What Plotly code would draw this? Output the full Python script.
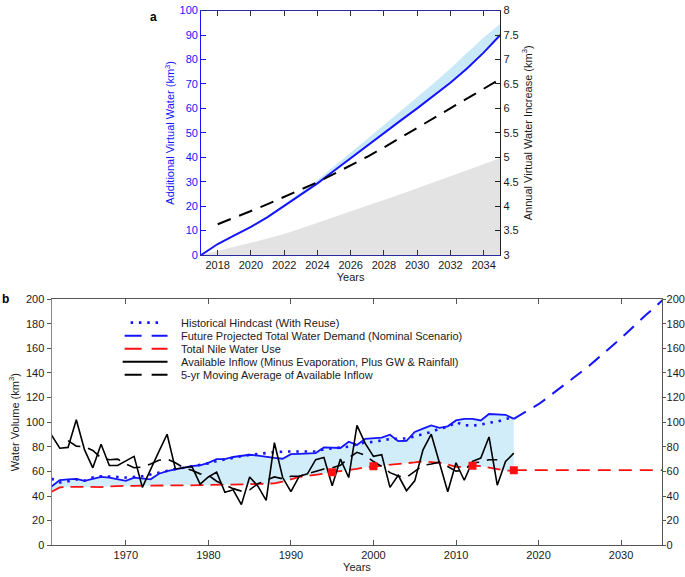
import plotly.graph_objects as go

W, H = 685, 577

# ---------------- Panel a data ----------------
years_a = [2017, 2018, 2019, 2020, 2021, 2022, 2023, 2024, 2025, 2026,
           2027, 2028, 2029, 2030, 2031, 2032, 2033, 2034, 2035]
additional_vw = [0, 4.5, 8, 11.5, 15.5, 20, 24.5, 29.3, 34.5, 39.7,
                 44.8, 50, 55, 60, 65.2, 70.5, 76.3, 82.8, 90]
additional_vw_upper = [0, 4.6, 8.2, 11.9, 16.1, 20.8, 25.6, 30.7, 36.2, 41.9,
                       47.5, 53.2, 58.8, 64.5, 70.3, 76.3, 82.5, 89.0, 94.5]
gray_area = [0, 1.6, 3.3, 5.0, 6.8, 8.6, 10.8, 13.1, 15.4, 17.7,
             20.1, 22.5, 24.9, 27.3, 29.7, 32.1, 34.6, 37.1, 39.7]
years_inc = [2018, 2019, 2020, 2021, 2022, 2023, 2024, 2025, 2026,
             2027, 2028, 2029, 2030, 2031, 2032, 2033, 2034, 2035]
annual_increase = [3.63, 3.76, 3.90, 4.04, 4.19, 4.34, 4.49, 4.66, 4.83,
                   5.01, 5.20, 5.40, 5.60, 5.80, 6.00, 6.20, 6.40, 6.60]

# ---------------- Panel b data ----------------
years_b = list(range(1961, 2018))
inflow = [89.4, 78.8, 79.5, 101.9, 77.5, 62.9, 82.0, 64.8, 64.8, 68.2,
          72.2, 47.0, 62.0, 76.0, 90.2, 62.0, 63.0, 64.0, 49.6, 55.5,
          59.4, 43.0, 45.0, 33.0, 55.5, 48.0, 36.4, 83.3, 55.0, 43.5,
          56.0, 58.0, 69.5, 71.3, 48.3, 70.0, 55.0, 97.4, 82.8, 72.2,
          73.5, 47.0, 56.8, 44.3, 52.3, 77.5, 90.2, 66.9, 43.5, 67.0,
          52.8, 68.2, 70.8, 88.0, 48.8, 68.0, 74.8]
years_ma = list(range(1963, 2016))
inflow_ma = [85.0, 80.5, 80.0, 77.0, 71.0, 69.5, 70.0, 66.0, 63.0, 63.5,
             66.0, 69.0, 70.0, 67.0, 63.0, 61.0, 58.0, 57.0, 52.0, 48.8,
             46.0, 44.0, 45.0, 50.0, 53.0, 55.5, 54.0, 56.0, 56.0, 58.0,
             60.6, 62.0, 63.0, 65.0, 71.0, 75.5, 73.0, 68.0, 64.0, 59.0,
             56.3, 55.0, 60.0, 65.0, 66.0, 67.5, 64.0, 60.2, 61.0, 67.0,
             67.5, 69.5, 69.5]
demand_hist = [47.8, 53.0, 53.6, 54.0, 52.3, 53.6, 55.5, 55.0, 53.6, 52.3,
               55.0, 54.4, 53.6, 58.1, 60.2, 61.6, 63.0, 64.3, 65.0, 66.9,
               70.0, 70.0, 71.7, 72.8, 73.5, 72.8, 71.7, 70.9, 70.3, 74.0,
               74.3, 74.3, 74.9, 79.5, 79.0, 79.0, 84.1, 81.5, 86.5, 86.8,
               87.5, 89.8, 84.6, 84.9, 92.0, 94.7, 97.4, 95.3, 96.6, 101.4,
               102.7, 102.7, 101.4, 106.6, 106.6, 106.0, 102.7]
hindcast_reuse = [54.0, 51.0, 52.0, 53.5, 52.5, 55.0, 56.0, 56.0, 55.5, 55.0,
                  55.5, 56.0, 57.5, 59.0, 60.8, 62.0, 63.0, 64.3, 65.0, 66.5,
                  68.5, 69.5, 71.0, 72.5, 73.5, 74.0, 74.9, 75.7, 76.2, 76.2,
                  76.2, 76.2, 76.2, 78.0, 78.5, 79.0, 80.0, 82.0, 83.5, 84.0,
                  85.0, 86.3, 86.5, 86.8, 88.5, 90.0, 92.0, 94.7, 96.0, 100.0,
                  97.5, 97.2, 98.0, 99.5, 100.5, 102.5, 104.0]
nile_use = [43.5, 47.0, 47.5, 47.5, 47.5, 47.0, 47.3, 47.8, 48.2, 48.3,
            48.3, 48.3, 48.3, 48.3, 48.3, 48.3, 48.5, 48.7, 48.8, 49.0,
            49.0, 49.0, 49.2, 49.4, 49.6, 49.8, 50.0, 50.3, 51.7, 53.6,
            55.5, 56.3, 57.0, 58.1, 59.4, 60.2, 61.6, 62.0, 63.3, 63.6,
            64.7, 65.2, 65.7, 66.3, 67.3, 68.2, 67.7, 67.0, 65.6, 63.6,
            63.6, 64.7, 64.2, 63.0, 61.6, 60.7, 60.7]
marker_years = [1995, 2000, 2012, 2017]
marker_use = [59.4, 64.2, 64.5, 61.0]
years_future = [2017, 2018, 2019, 2020, 2021, 2022, 2023, 2024, 2025, 2026,
                2027, 2028, 2029, 2030, 2031, 2032, 2033, 2034, 2035]
future_demand = [102.7, 106.5, 110.5, 114.6, 119.5, 124.5, 129.5, 134.5, 139.8, 145.1,
                 150.8, 156.5, 162.3, 168.2, 174.5, 181.0, 187.0, 192.9, 199.0]
years_future_use = [2017, 2035]
future_use = [61.0, 61.0]

legend_labels = [
    "Historical Hindcast (With Reuse)",
    "Future Projected Total Water Demand (Nominal Scenario)",
    "Total Nile Water Use",
    "Available Inflow (Minus Evaporation, Plus GW & Rainfall)",
    "5-yr Moving Average of Available Inflow",
]

BLUE = "#1414ff"
RED = "#ff1010"
FILL_B = "#d2edfa"
FILL_A = "#c9e9f8"
GRAY = "#e3e3e3"
FONT = "Liberation Sans, Arial, sans-serif"


def px(x):
    return x / W


def py(y):
    return 1 - y / H


fig = go.Figure()

# ---- panel a ----
fig.add_trace(go.Scatter(x=years_a, y=gray_area, mode="lines", fill="tozeroy",
                         fillcolor=GRAY, line=dict(width=0), xaxis="x", yaxis="y",
                         hoverinfo="skip"))
fig.add_trace(go.Scatter(x=years_a, y=additional_vw, mode="lines",
                         line=dict(width=0), xaxis="x", yaxis="y", hoverinfo="skip"))
fig.add_trace(go.Scatter(x=years_a, y=additional_vw_upper, mode="lines", fill="tonexty",
                         fillcolor=FILL_A, line=dict(width=0), xaxis="x", yaxis="y",
                         hoverinfo="skip"))
fig.add_trace(go.Scatter(x=years_a, y=additional_vw, mode="lines",
                         line=dict(color=BLUE, width=2), xaxis="x", yaxis="y",
                         name="Additional Virtual Water"))
fig.add_trace(go.Scatter(x=years_inc, y=annual_increase, mode="lines",
                         line=dict(color="black", width=2, dash="14px,9px"),
                         xaxis="x", yaxis="y2", name="Annual Virtual Water Increase"))

# ---- panel b ----
fig.add_trace(go.Scatter(x=years_b, y=nile_use, mode="lines", line=dict(width=0),
                         xaxis="x2", yaxis="y3", hoverinfo="skip"))
fig.add_trace(go.Scatter(x=years_b, y=demand_hist, mode="lines", fill="tonexty",
                         fillcolor=FILL_B, line=dict(color=BLUE, width=1.8),
                         xaxis="x2", yaxis="y3", name="Historical Total Water Demand"))
fig.add_trace(go.Scatter(x=years_b, y=hindcast_reuse, mode="lines",
                         line=dict(color=BLUE, width=2.6, dash="2.5px,5.8px"),
                         xaxis="x2", yaxis="y3", name=legend_labels[0]))
fig.add_trace(go.Scatter(x=years_b, y=nile_use, mode="lines",
                         line=dict(color=RED, width=1.8, dash="13px,7px"),
                         xaxis="x2", yaxis="y3", name=legend_labels[2]))
fig.add_trace(go.Scatter(x=years_future_use, y=future_use, mode="lines",
                         line=dict(color=RED, width=1.8, dash="13px,8px"),
                         xaxis="x2", yaxis="y4", name="Future Nile Water Use"))
fig.add_trace(go.Scatter(x=years_future, y=future_demand, mode="lines",
                         line=dict(color=BLUE, width=2, dash="14px,9px"),
                         xaxis="x2", yaxis="y4", name=legend_labels[1]))
fig.add_trace(go.Scatter(x=years_b, y=inflow, mode="lines",
                         line=dict(color="black", width=1.6),
                         xaxis="x2", yaxis="y3", name=legend_labels[3]))
fig.add_trace(go.Scatter(x=years_ma, y=inflow_ma, mode="lines",
                         line=dict(color="black", width=1.6, dash="14px,8px"),
                         xaxis="x2", yaxis="y3", name=legend_labels[4]))
fig.add_trace(go.Scatter(x=marker_years, y=marker_use, mode="markers",
                         marker=dict(symbol="square", size=8, color=RED),
                         xaxis="x2", yaxis="y3", name="Nile Water Use (reported)"))

axis_common = dict(showgrid=False, zeroline=False, showline=True, linewidth=1,
                   tickfont=dict(size=11, family=FONT))

fig.update_layout(
    width=W, height=H,
    margin=dict(l=0, r=0, t=0, b=0),
    paper_bgcolor="white", plot_bgcolor="white",
    showlegend=False,
    font=dict(family=FONT, size=11, color="#1a1a1a"),
    xaxis=dict(domain=[px(201.7), px(501.7)], anchor="y", range=[2017, 2035],
               tick0=2018, dtick=2, ticks="inside", ticklen=5, mirror="ticks",
               linecolor="#2a2a9a", tickcolor="#333",
               title=dict(text="Years", font=dict(size=11), standoff=2),
               **axis_common),
    yaxis=dict(domain=[py(254.3), py(4.7)], anchor="x", range=[0, 100], dtick=10,
               ticks="inside", ticklen=5, linecolor=BLUE, tickcolor=BLUE,
               tickfont=dict(size=11, family=FONT, color=BLUE),
               title=dict(text="Additional Virtual Water (km<sup>3</sup>)",
                          font=dict(size=11, color=BLUE), standoff=2),
               showgrid=False, zeroline=False, showline=True, linewidth=1),
    yaxis2=dict(overlaying="y", side="right", anchor="x", range=[3, 8], dtick=0.5,
                ticks="inside", ticklen=5, linecolor="#222", tickcolor="#222",
                title=dict(text="Annual Virtual Water Increase (km<sup>3</sup>)",
                           font=dict(size=11), standoff=6),
                **axis_common),
    xaxis2=dict(domain=[px(51.7), px(664.3)], anchor="y3", range=[1961, 2035],
                tick0=1970, dtick=10, ticks="inside", ticklen=5, mirror="ticks",
                linecolor="#555", tickcolor="#555",
                title=dict(text="Years", font=dict(size=11), standoff=2),
                **axis_common),
    yaxis3=dict(domain=[py(550.7), py(299.3)], anchor="x2", range=[0, 200], dtick=20,
                ticks="outside", ticklen=4, linecolor="#888", tickcolor="#555",
                title=dict(text="Water Volume (km<sup>3</sup>)", font=dict(size=11),
                           standoff=4),
                **axis_common),
    yaxis4=dict(overlaying="y3", side="right", anchor="x2", range=[0, 200], dtick=20,
                ticks="outside", ticklen=3, ticklabelstandoff=-2,
                linecolor="#555", tickcolor="#555",
                **axis_common),
)

# ---- manual legend for panel b ----
row_y = [323.3, 336.7, 350.0, 363.3, 376.7]
sample_styles = [
    dict(color=BLUE, width=2.6, dash="2.5px,5.8px", x0=131, x1=162),
    dict(color=BLUE, width=2, dash="17px,10px", x0=125, x1=168),
    dict(color=RED, width=2, dash="17px,10px", x0=125, x1=168),
    dict(color="black", width=2, dash="solid", x0=123, x1=168),
    dict(color="black", width=2, dash="17px,10px", x0=125, x1=168),
]
shapes = []
annotations = []
for ry, st, lab in zip(row_y, sample_styles, legend_labels):
    shapes.append(dict(type="line", xref="paper", yref="paper",
                       x0=px(st["x0"]), x1=px(st["x1"]), y0=py(ry), y1=py(ry),
                       line=dict(color=st["color"], width=st["width"], dash=st["dash"])))
    annotations.append(dict(text=lab, xref="paper", yref="paper", x=px(180), y=py(ry),
                            xanchor="left", yanchor="middle", showarrow=False,
                            font=dict(size=11, family=FONT, color="#1a1a1a")))

annotations.append(dict(text="<b>a</b>", xref="paper", yref="paper", x=px(148), y=py(11),
                        xanchor="left", yanchor="middle", showarrow=False,
                        font=dict(size=12, family=FONT, color="black")))
annotations.append(dict(text="<b>b</b>", xref="paper", yref="paper", x=px(0), y=py(299),
                        xanchor="left", yanchor="middle", showarrow=False,
                        font=dict(size=12, family=FONT, color="black")))

fig.update_layout(shapes=shapes, annotations=annotations)

fig.write_html("out.html",
               config={"displayModeBar": False},
               post_script="document.body.style.margin='0';document.body.style.overflow='hidden';")
